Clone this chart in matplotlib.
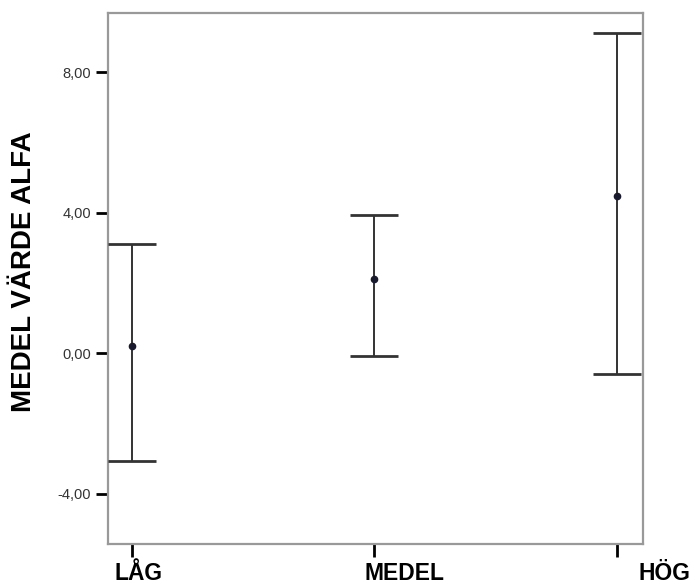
import matplotlib
matplotlib.use("Agg")
import matplotlib.pyplot as plt
from matplotlib.transforms import ScaledTranslation, blended_transform_factory

categories = ["LÅG", "MEDEL", "HÖG"]
means = [0.21, 2.11, 4.48]
upper = [3.10, 3.93, 9.12]
lower = [-3.06, -0.07, -0.59]
yticks = [-4, 0, 4, 8]
ytick_labels = ["-4,00", "0,00", "4,00", "8,00"]

plt.rcParams['font.family'] = ['Liberation Sans', 'DejaVu Sans']

fig = plt.figure(figsize=(6.98, 5.84), dpi=100)
ax = fig.add_axes([108/698, 1-544/584, (643-108)/698, (544-13)/584])

x = [1, 2, 3]
yerr = [[m - l for m, l in zip(means, lower)], [u - m for m, u in zip(means, upper)]]
eb = ax.errorbar(x, means, yerr=yerr, fmt='o', color='#1a1a2e', markersize=4.5,
                 ecolor='#333333', elinewidth=1.4, capsize=17, capthick=2, zorder=3)
for cl in eb[1]:
    cl.set_color('#888888')

ax.set_xlim(0.902, 3.108)
ax.set_ylim(-5.43, 9.68)

ax.set_yticks(yticks)
ax.set_yticklabels(ytick_labels, fontsize=10.5, color='#333333')
ax.set_xticks(x)
ax.set_xticklabels([])

# category labels, shifted as in the reference
offsets = [7, 30, 48]
base = blended_transform_factory(ax.transData, ax.transAxes)
for xi, lab, dx in zip(x, categories, offsets):
    tr = base + ScaledTranslation(dx/100, -36/100, fig.dpi_scale_trans)
    ax.text(xi, 0, lab, transform=tr, ha='center', va='baseline',
            fontsize=16.5, fontweight='bold', color='black', clip_on=False)

ax.tick_params(axis='y', direction='out', length=9, width=2, color='black', pad=3)
ax.tick_params(axis='x', direction='out', length=9, width=2, color='black')

for s in ax.spines.values():
    s.set_color('#999999')
    s.set_linewidth(1.6)

ax.set_ylabel("MEDEL VÄRDE ALFA", fontsize=20, fontweight='bold')
ax.yaxis.set_label_coords(-(108-37)/535, (544-272)/531)

fig.savefig("out.png", dpi=100)
